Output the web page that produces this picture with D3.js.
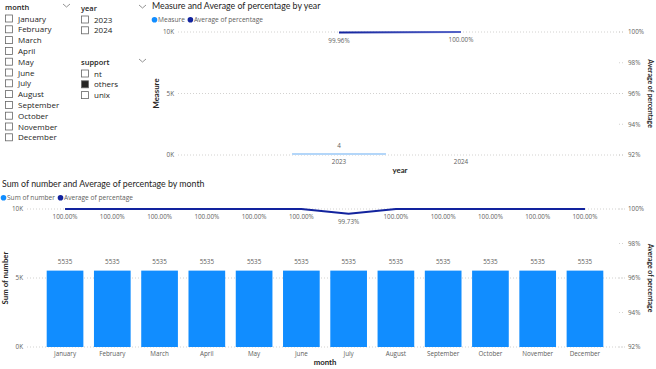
<!DOCTYPE html>
<html><head><meta charset="utf-8">
<script src="https://cdn.jsdelivr.net/npm/d3@7"></script>
<style>
body{margin:0;background:#fff;}
svg{display:block;font-family:"Open Sans","Noto Sans",sans-serif;}
.lt{font-family:Lato,"Open Sans",sans-serif;}
</style></head>
<body><svg id="c" width="656" height="369"></svg>
<script>
// ---- data ----
const monthNames = ["January","February","March","April","May","June","July","August","September","October","November","December"];
const sumNumber = [5535,5535,5535,5535,5535,5535,5535,5535,5535,5535,5535,5535];
const monthPct = [1.0,1.0,1.0,1.0,1.0,1.0,0.9973,1.0,1.0,1.0,1.0,1.0];
const years = ["2023","2024"];
const measure = [4, null];
const yearPct = [0.9996, 1.0];
const leftTicks = [0, 5000, 10000];
const rightTicks = [0.92, 0.94, 0.96, 0.98, 1.0];
const supportItems = ["nt","others","unix"];
const supportChecked = [false,true,false];

const svg = d3.select("#c");
const BAR = "#118DFF", LINE = "#12239E", TXT = "#605E5C", DARK = "#252423";
const kfmt = v => (v/1000) + "K";
const pfmt = d3.format(".2%");
const rfmt = d3.format(".0%");

// ---- slicers ----
function chevron(x, y){
  svg.append("polyline").attr("points", `${x},${y} ${x+3.5},${y+3} ${x+7},${y}`)
    .attr("fill","none").attr("stroke","#777").attr("stroke-width",0.8);
}
function slicer(x, y, title, items, checked, step){
  svg.append("text").attr("x", x).attr("y", y).attr("font-size", 7.5).attr("font-weight",600)
    .attr("fill", DARK).text(title);
  chevron(x + 58, y - 6);
  items.forEach((it, i) => {
    const cy = y + 8.5 + i*step;
    svg.append("rect").attr("x", x + 0.5).attr("y", cy - 3.5).attr("width", 7).attr("height", 7)
      .attr("fill", checked[i] ? DARK : "#fff").attr("stroke", "#666").attr("stroke-width", 0.8);
    svg.append("text").attr("x", x + 13).attr("y", cy + 3).attr("font-size", 8).attr("fill", DARK).text(it);
  });
}
slicer(5, 10, "month", monthNames, monthNames.map(()=>false), 10.8);
slicer(81, 11, "year", years, [false,false], 10.8);
slicer(81, 65, "support", supportItems, supportChecked, 10.8);

// ---- generic combo chart ----
function combo(o){
  const g = svg.append("g");
  g.append("text").attr("class","lt").attr("x", o.titleX).attr("y", o.titleY).attr("font-size", 8.8)
    .attr("fill", DARK).text(o.title);
  // legend
  let lx = o.legX;
  o.legend.forEach((l, i) => {
    g.append("circle").attr("cx", lx + 2.5).attr("cy", o.legY - 2.3).attr("r", 2.8).attr("fill", l.c);
    const t = g.append("text").attr("x", lx + 6).attr("y", o.legY).attr("font-size", 6.6).attr("fill", TXT).text(l.t);
    lx += 6 + t.node().getComputedTextLength() + 3;
  });
  const x = d3.scaleBand().domain(o.cats).range(o.xr).paddingInner(o.pi).paddingOuter(o.pi/2);
  const yl = d3.scaleLinear().domain([0, 10000]).range([o.y0, o.y1]);
  const yr = d3.scaleLinear().domain([0.92, 1.0]).range([o.y0, o.y1]);
  // left grid + ticks
  leftTicks.forEach(t => {
    g.append("line").attr("x1", o.gx0).attr("x2", o.gx1).attr("y1", yl(t)).attr("y2", yl(t))
      .attr("stroke", "#C8C6C4").attr("stroke-width", 0.8).attr("stroke-dasharray", "1,2");
    g.append("text").attr("x", o.gx0 - 4).attr("y", yl(t) + 2.3).attr("text-anchor","end")
      .attr("font-size", 6.3).attr("fill", TXT).text(kfmt(t));
  });
  rightTicks.forEach(t => {
    g.append("line").attr("x1", o.gx1 - 6).attr("x2", o.gx1).attr("y1", yr(t)).attr("y2", yr(t))
      .attr("stroke", "#C8C6C4").attr("stroke-width", 0.8).attr("stroke-dasharray", "1,2");
    g.append("text").attr("x", o.gx1 + 3).attr("y", yr(t) + 2.3)
      .attr("font-size", 6.3).attr("fill", TXT).text(rfmt(t));
  });
  // bars
  o.cats.forEach((c, i) => {
    const v = o.bars[i];
    if (v == null) return;
    const h = Math.max(o.minH, yl(0) - yl(v));
    g.append("rect").attr("x", x(c)).attr("y", yl(0) - h).attr("width", x.bandwidth()).attr("height", h)
      .attr("fill", o.barColor);
    g.append("text").attr("x", x(c) + x.bandwidth()/2).attr("y", yl(v) - 7).attr("text-anchor","middle")
      .attr("font-size", 6.3).attr("fill", TXT).text(v);
  });
  // x labels
  o.cats.forEach(c => {
    g.append("text").attr("x", x(c) + x.bandwidth()/2).attr("y", o.y0 + 9).attr("text-anchor","middle")
      .attr("font-size", 6.3).attr("fill", TXT).text(c);
  });
  // line
  const pts = o.cats.map((c, i) => [x(c) + x.bandwidth()/2, yr(o.pct[i])]);
  if (o.grad) {
    const defs = svg.append("defs");
    const lg = defs.append("linearGradient").attr("id", o.grad).attr("gradientUnits","userSpaceOnUse")
      .attr("x1", pts[0][0]).attr("x2", pts[pts.length-1][0]).attr("y1", 0).attr("y2", 0);
    lg.append("stop").attr("offset", "0%").attr("stop-color", LINE);
    lg.append("stop").attr("offset", "100%").attr("stop-color", "#5563C8");
  }
  g.append("path").attr("d", d3.line()(pts)).attr("fill","none")
    .attr("stroke", o.grad ? `url(#${o.grad})` : LINE).attr("stroke-width", 2);
  pts.forEach((p, i) => {
    g.append("text").attr("x", p[0]).attr("y", p[1] + 10).attr("text-anchor","middle")
      .attr("font-size", 6.3).attr("fill", TXT).text(pfmt(o.pct[i]));
  });
  // axis titles
  g.append("text").attr("class","lt").attr("transform", `translate(${o.ltX},${(o.y0+o.y1)/2}) rotate(-90)`).attr("text-anchor","middle")
    .attr("font-size", 7.8).attr("font-weight",700).attr("fill", DARK).text(o.lt);
  g.append("text").attr("class","lt").attr("transform", `translate(${o.rtX},${(o.y0+o.y1)/2}) rotate(90)`).attr("text-anchor","middle")
    .attr("font-size", 6.9).attr("font-weight",700).attr("fill", DARK).text("Average of percentage");
  g.append("text").attr("class","lt").attr("x", o.xtX).attr("y", o.y0 + 18).attr("text-anchor","middle")
    .attr("font-size", 7.8).attr("font-weight",700).attr("fill", DARK).text(o.xt);
}

combo({
  title: "Measure and Average of percentage by year", titleX: 152, titleY: 9,
  legX: 152, legY: 22,
  legend: [{t:"Measure", c:BAR}, {t:"Average of percentage", c:LINE}],
  cats: years, bars: measure, pct: yearPct, barColor: "#B3D6F9", minH: 2,
  xr: [278, 522], pi: 0.23,
  y0: 155, y1: 32, gx0: 178, gx1: 625,
  lt: "Measure", ltX: 159, rtX: 648, xt: "year", xtX: 400, grad: "g1"
});
combo({
  title: "Sum of number and Average of percentage by month", titleX: 2, titleY: 187,
  legX: 1, legY: 200,
  legend: [{t:"Sum of number", c:BAR}, {t:"Average of percentage", c:LINE}],
  cats: monthNames, bars: sumNumber, pct: monthPct, barColor: BAR, minH: 0,
  xr: [41.4, 608.6], pi: 0.224,
  y0: 347, y1: 209, gx0: 27, gx1: 625,
  lt: "Sum of number", ltX: 8, rtX: 648, xt: "month", xtX: 325, grad: null
});
</script></body></html>
